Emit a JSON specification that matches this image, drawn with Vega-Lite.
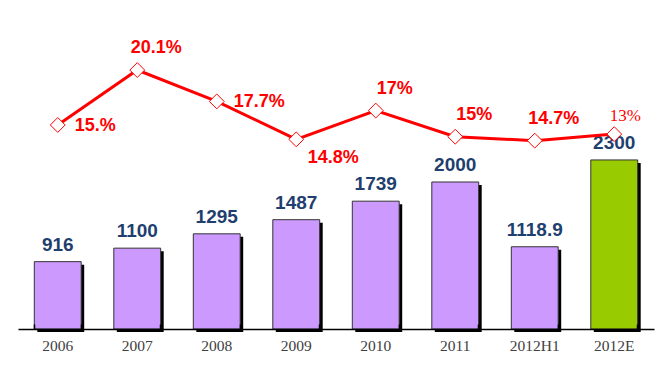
{
  "$schema": "https://vega.github.io/schema/vega-lite/v6.json",
  "autosize": "none",
  "width": 636,
  "height": 329,
  "padding": {"left": 18, "top": 0, "right": 6, "bottom": 43},
  "background": "white",
  "config": {"view": {"stroke": null}, "axis": {"ticks": true, "tickColor": "#000000"}},
  "data": {
    "values": [
      {"year": "2006", "value": 916, "vlabel": "916", "rate": 15.9, "rlabel": "15.%", "kind": "actual", "pos": "right"},
      {"year": "2007", "value": 1100, "vlabel": "1100", "rate": 20.1, "rlabel": "20.1%", "kind": "actual", "pos": "above"},
      {"year": "2008", "value": 1295, "vlabel": "1295", "rate": 17.7, "rlabel": "17.7%", "kind": "actual", "pos": "right"},
      {"year": "2009", "value": 1487, "vlabel": "1487", "rate": 14.8, "rlabel": "14.8%", "kind": "actual", "pos": "below"},
      {"year": "2010", "value": 1739, "vlabel": "1739", "rate": 17.0, "rlabel": "17%", "kind": "actual", "pos": "above"},
      {"year": "2011", "value": 2000, "vlabel": "2000", "rate": 15.0, "rlabel": "15%", "kind": "actual", "pos": "above"},
      {"year": "2012H1", "value": 1118.9, "vlabel": "1118.9", "rate": 14.7, "rlabel": "14.7%", "kind": "actual", "pos": "above"},
      {"year": "2012E", "value": 2300, "vlabel": "2300", "rate": 15.2, "rlabel": "13%", "kind": "estimate", "pos": "estimate"}
    ]
  },
  "encoding": {
    "x": {
      "field": "year",
      "type": "ordinal",
      "sort": null,
      "scale": {"paddingInner": 0.41, "paddingOuter": 0.205},
      "axis": {
        "title": null,
        "orient": "bottom",
        "zindex": 1,
        "labelAngle": 0,
        "bandPosition": 1,
        "tickExtra": true,
        "domainColor": "#000000",
        "domainWidth": 1.5,
        "ticks": true,
        "tickColor": "#000000",
        "tickOpacity": 1,
        "tickSize": -5,
        "tickWidth": 1.5,
        "labelFont": "Liberation Serif",
        "labelFontSize": 15.5,
        "labelColor": "#404040",
        "labelPadding": 14
      }
    }
  },
  "layer": [
    {
      "layer": [
        {
          "mark": {"type": "bar", "color": "#000000", "xOffset": 3, "yOffset": 3, "y2Offset": 0},
          "encoding": {
            "y": {"field": "value", "type": "quantitative", "scale": {"domain": [0, 4476], "nice": false}, "axis": null}
          }
        },
        {
          "mark": {"type": "bar", "stroke": "#333333", "strokeWidth": 1},
          "encoding": {
            "y": {"field": "value", "type": "quantitative", "scale": {"domain": [0, 4476], "nice": false}, "axis": null},
            "fill": {
              "field": "kind",
              "type": "nominal",
              "scale": {"domain": ["actual", "estimate"], "range": ["#CC99FF", "#99CC00"]},
              "legend": null
            }
          }
        },
        {
          "mark": {"type": "text", "font": "Liberation Sans", "fontWeight": "bold", "fontSize": 19, "color": "#1F3F6F", "baseline": "bottom", "dy": -7},
          "encoding": {
            "y": {"field": "value", "type": "quantitative", "scale": {"domain": [0, 4476], "nice": false}, "axis": null},
            "text": {"field": "vlabel"}
          }
        }
      ]
    },
    {
      "layer": [
        {
          "mark": {"type": "line", "color": "#FF0000", "strokeWidth": 3},
          "encoding": {
            "y": {"field": "rate", "type": "quantitative", "scale": {"domain": [0.29, 25.46], "nice": false, "zero": false}, "axis": null}
          }
        },
        {
          "mark": {"type": "point", "shape": "diamond", "filled": true, "fill": "#FFFFFF", "stroke": "#FF0000", "strokeWidth": 1, "size": 220, "opacity": 1},
          "encoding": {
            "y": {"field": "rate", "type": "quantitative", "scale": {"domain": [0.29, 25.46], "nice": false, "zero": false}, "axis": null}
          }
        },
        {
          "transform": [{"filter": "datum.pos == 'right'"}],
          "mark": {"type": "text", "font": "Liberation Sans", "fontWeight": "bold", "fontSize": 18, "color": "#FF0000", "align": "left", "baseline": "middle", "dx": 17, "dy": 1},
          "encoding": {
            "y": {"field": "rate", "type": "quantitative", "scale": {"domain": [0.29, 25.46], "nice": false, "zero": false}, "axis": null},
            "text": {"field": "rlabel"}
          }
        },
        {
          "transform": [{"filter": "datum.pos == 'above'"}],
          "mark": {"type": "text", "font": "Liberation Sans", "fontWeight": "bold", "fontSize": 18, "color": "#FF0000", "align": "center", "baseline": "middle", "dx": 19, "dy": -22},
          "encoding": {
            "y": {"field": "rate", "type": "quantitative", "scale": {"domain": [0.29, 25.46], "nice": false, "zero": false}, "axis": null},
            "text": {"field": "rlabel"}
          }
        },
        {
          "transform": [{"filter": "datum.pos == 'below'"}],
          "mark": {"type": "text", "font": "Liberation Sans", "fontWeight": "bold", "fontSize": 18, "color": "#FF0000", "align": "center", "baseline": "middle", "dx": 37, "dy": 19},
          "encoding": {
            "y": {"field": "rate", "type": "quantitative", "scale": {"domain": [0.29, 25.46], "nice": false, "zero": false}, "axis": null},
            "text": {"field": "rlabel"}
          }
        },
        {
          "transform": [{"filter": "datum.pos == 'estimate'"}],
          "mark": {"type": "text", "font": "Liberation Serif", "fontSize": 17, "color": "#FF0000", "align": "center", "baseline": "middle", "dx": 11, "dy": -18},
          "encoding": {
            "y": {"field": "rate", "type": "quantitative", "scale": {"domain": [0.29, 25.46], "nice": false, "zero": false}, "axis": null},
            "text": {"field": "rlabel"}
          }
        }
      ]
    }
  ],
  "resolve": {"scale": {"y": "independent"}}
}
